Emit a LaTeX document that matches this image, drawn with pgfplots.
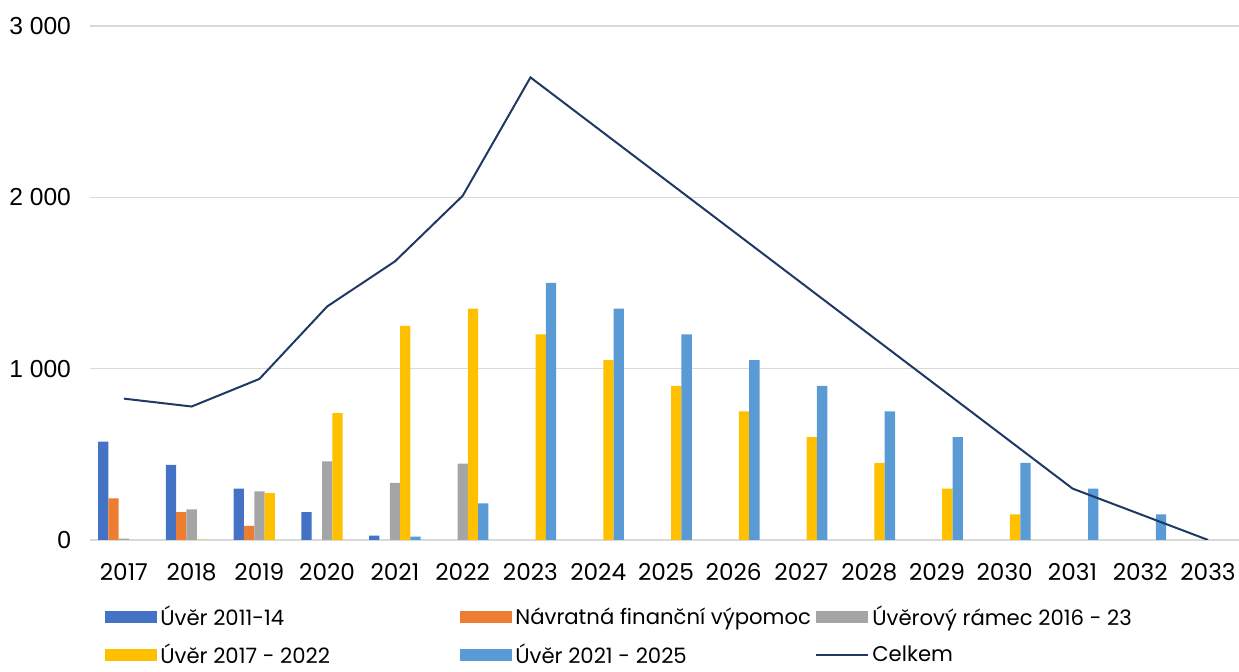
\documentclass[border=0pt]{standalone}
\usepackage{pgfplots}
\pgfplotsset{compat=1.18}
\usepackage{fontspec}
\setmainfont{Liberation Sans}
\newfontfamily\cg{Poppins}
\definecolor{cBlue}{HTML}{4472C4}
\definecolor{cOrange}{HTML}{ED7D31}
\definecolor{cGray}{HTML}{A5A5A5}
\definecolor{cYellow}{HTML}{FFC000}
\definecolor{cLBlue}{HTML}{5B9BD5}
\definecolor{cNavy}{HTML}{203864}
\definecolor{cGrid}{HTML}{D9D9D9}
\pgfplotsset{
  barleg/.style={legend image code/.code={\fill[##1] (0pt,-3pt) rectangle (26pt,3pt);}},
  lineleg/.style={legend image code/.code={\draw[##1] (0pt,0pt) -- (26pt,0pt);}},
}
\begin{document}
\begin{tikzpicture}
\useasboundingbox (0,0) rectangle (619.5pt,336pt);
\begin{axis}[
  at={(45pt,66pt)}, anchor=south west,
  scale only axis, width=576pt, height=257pt,
  xmin=2016.5, xmax=2033.5, ymin=0, ymax=3000,
  xtick={2017,...,2033},
  xticklabels={2017,2018,2019,2020,2021,2022,2023,2024,2025,2026,2027,2028,2029,2030,2031,2032,2033},
  ytick={0,1000,2000,3000},
  yticklabels={0,1 000,2 000,3 000},
  axis line style={draw=none},
  major tick length=0pt,
  ymajorgrids, grid style={color=cGrid, line width=0.75pt},
  xticklabel style={font=\cg\fontsize{11.6}{14}\selectfont, yshift=-8pt},
  yticklabel style={font=\fontsize{12.3}{14}\selectfont, xshift=-6pt},
  legend columns=3,
  legend style={at={(0.013,-0.12)}, anchor=north west, draw=none, fill=none,
    inner sep=0pt, row sep=3.5pt,
    font=\cg\fontsize{10.6}{12}\selectfont,
    nodes={inner xsep=1.5pt, inner ysep=2pt}},
  legend cell align=left,
]
\addplot[ybar, bar width=5.15pt, bar shift=-10.3pt, fill=cBlue, draw=none, barleg] coordinates {
 (2017,574) (2018,438) (2019,300) (2020,163) (2021,25)};
\addlegendentry{\makebox[148.5pt][l]{Úvěr 2011-14}}
\addplot[ybar, bar width=5.15pt, bar shift=-5.15pt, fill=cOrange, draw=none, barleg] coordinates {
 (2017,243) (2018,162) (2019,82)};
\addlegendentry{\makebox[148.5pt][l]{Návratná finanční výpomoc}}
\addplot[ybar, bar width=5.15pt, bar shift=0pt, fill=cGray, draw=none, barleg] coordinates {
 (2017,8) (2018,179) (2019,284) (2020,459) (2021,333) (2022,445)};
\addlegendentry{\makebox[148.5pt][l]{Úvěrový rámec  2016 - 23}}
\addplot[ybar, bar width=5.15pt, bar shift=5.15pt, fill=cYellow, draw=none, barleg] coordinates {
 (2018,2) (2019,274) (2020,741) (2021,1249) (2022,1350) (2023,1200) (2024,1050) (2025,900) (2026,750) (2027,600) (2028,450) (2029,300) (2030,150)};
\addlegendentry{\makebox[148.5pt][l]{Úvěr 2017 - 2022}}
\addplot[ybar, bar width=5.15pt, bar shift=10.3pt, fill=cLBlue, draw=none, barleg] coordinates {
 (2021,19) (2022,214) (2023,1500) (2024,1350) (2025,1200) (2026,1050) (2027,900) (2028,750) (2029,600) (2030,450) (2031,300) (2032,150)};
\addlegendentry{\makebox[148.5pt][l]{Úvěr 2021 - 2025}}
\addplot[sharp plot, color=cNavy, line width=1pt, no marks, lineleg] coordinates {
 (2017,825) (2018,779) (2019,940) (2020,1363) (2021,1626) (2022,2009) (2023,2700) (2024,2400) (2025,2100) (2026,1800) (2027,1500) (2028,1200) (2029,900) (2030,600) (2031,300) (2032,150) (2033,0)};
\addlegendentry{\makebox[148.5pt][l]{Celkem}}
\end{axis}
\end{tikzpicture}
\end{document}
